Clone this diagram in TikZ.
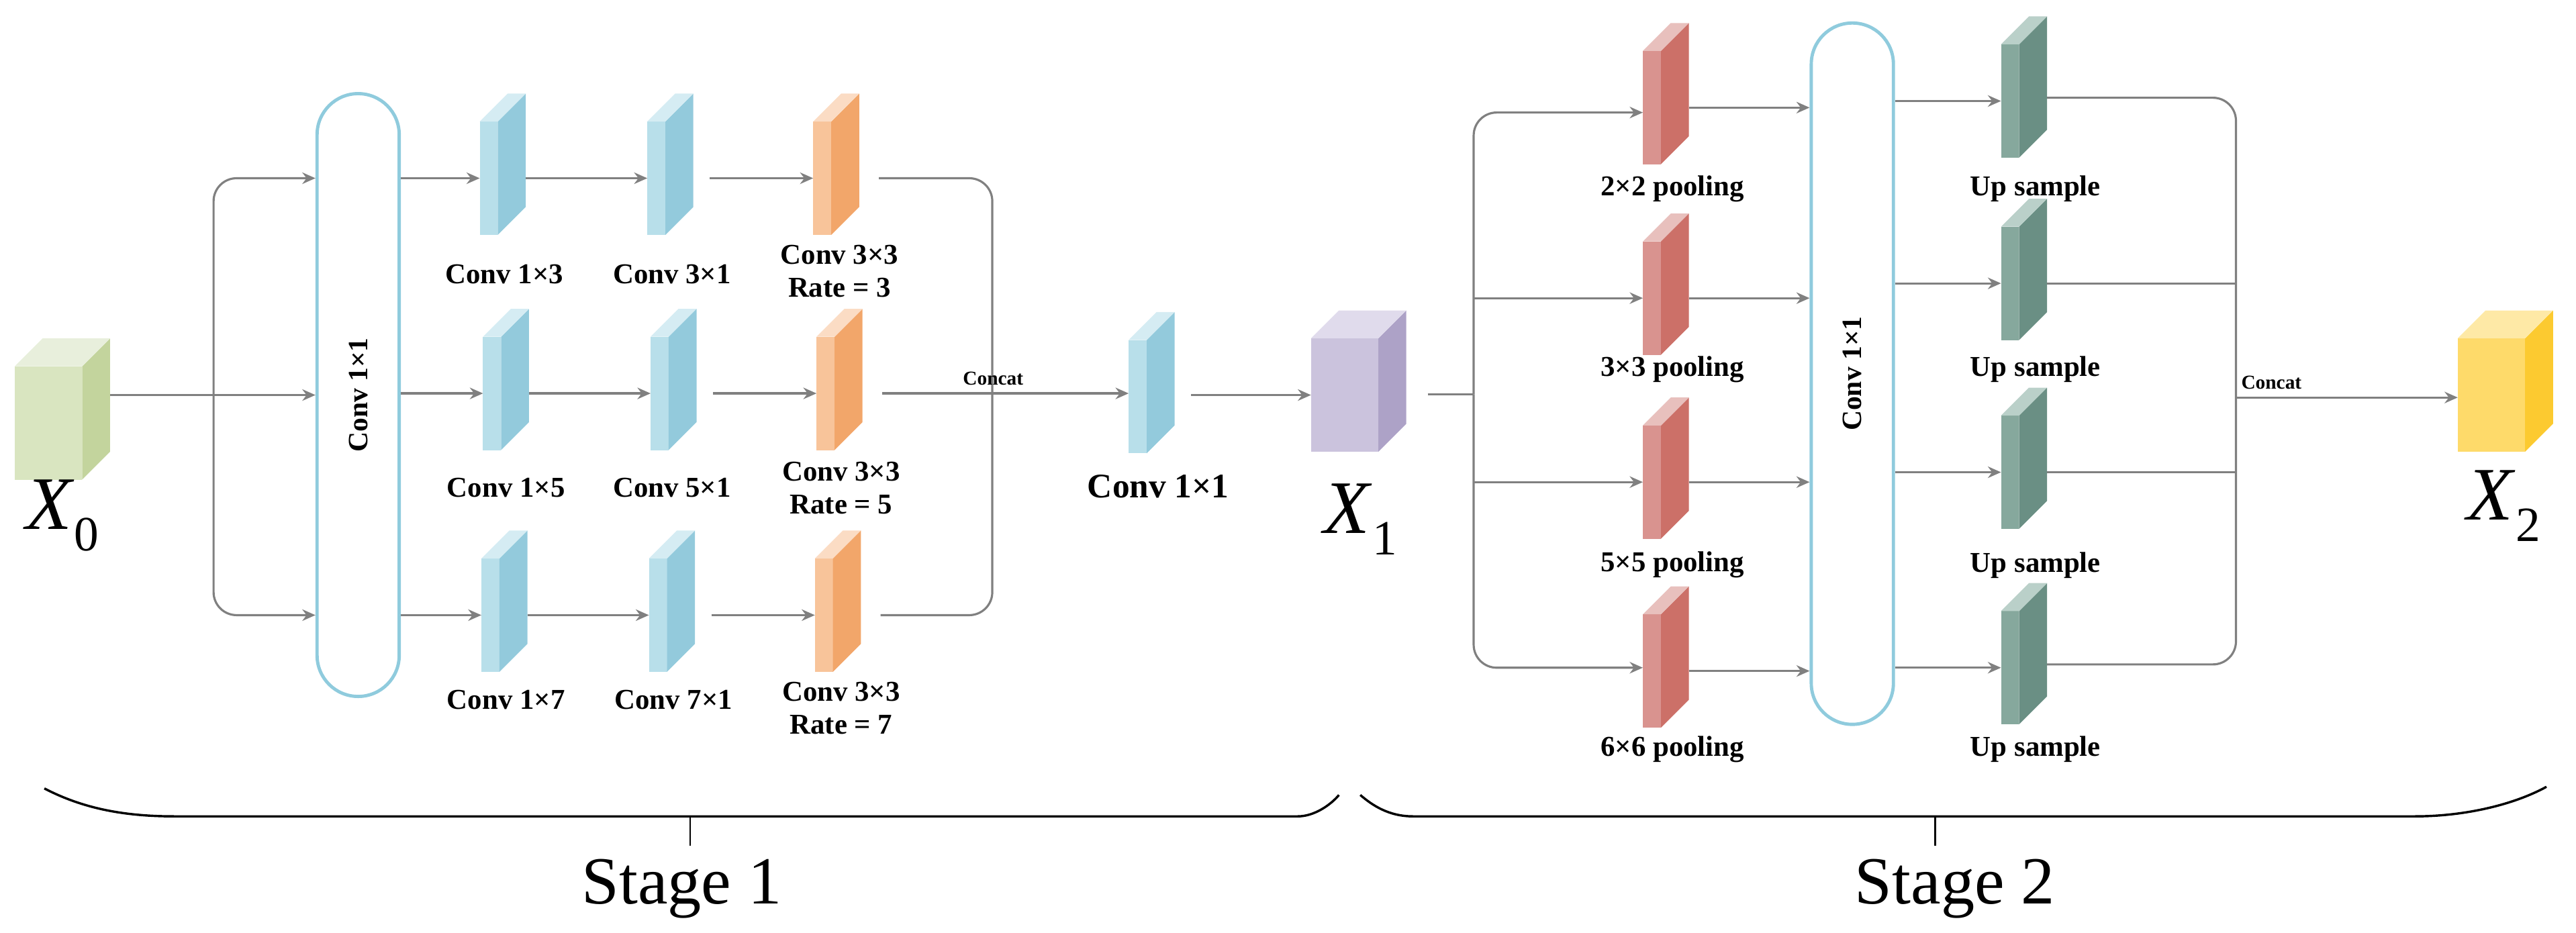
\documentclass[tikz,border=0pt]{standalone}
\usepackage{fontspec}
\setmainfont{Liberation Serif}
\usetikzlibrary{arrows.meta,positioning,calc}

\definecolor{lineg}{HTML}{808080}
\definecolor{ringb}{HTML}{8FCBDD}
\definecolor{bluef}{HTML}{B8DFEA}\definecolor{blues}{HTML}{93CADC}\definecolor{bluet}{HTML}{D5ECF3}
\definecolor{orgf}{HTML}{F8C49A}\definecolor{orgs}{HTML}{F2A66A}\definecolor{orgt}{HTML}{FBDCC4}
\definecolor{redf}{HTML}{D9938F}\definecolor{reds}{HTML}{CC7068}\definecolor{redt}{HTML}{E8C0BD}
\definecolor{tealf}{HTML}{86A89D}\definecolor{teals}{HTML}{6A8F84}\definecolor{tealt}{HTML}{BAD0C9}
\definecolor{grnf}{HTML}{D9E5C0}\definecolor{grns}{HTML}{C3D49D}\definecolor{grnt}{HTML}{E8EFDC}
\definecolor{purf}{HTML}{CBC3DD}\definecolor{purs}{HTML}{ADA2C7}\definecolor{purt}{HTML}{E0DBEC}
\definecolor{yelf}{HTML}{FEDA6A}\definecolor{yels}{HTML}{FCCA30}\definecolor{yelt}{HTML}{FEE9A6}

\tikzset{
  flow/.style={draw=lineg,line width=1.3pt,-{Stealth[length=8pt,width=7pt]},rounded corners=14pt},
  wire/.style={draw=lineg,line width=1.3pt,rounded corners=14pt},
  lbl/.style={font=\fontsize{17.5}{20}\selectfont\bfseries,align=center},
  ring/.style={draw=ringb,line width=2pt,rounded corners=25pt,minimum width=50pt,inner sep=0pt},
  bigx/.style={font=\fontsize{46}{46}\selectfont}
}

% thin feature map: name, front-left x, front-top y, colour prefix
\newcommand\slab[4]{%
  \fill[#4f] (#2,#3) rectangle ++(11,69);
  \fill[#4s] (#2+11,#3) -- ++(17,-17) -- ++(0,69) -- ++(-17,17) -- cycle;
  \fill[#4t] (#2,#3) -- ++(17,-17) -- ++(11,0) -- ++(-17,17) -- cycle;
  \coordinate (#1-in) at (#2,#3+34.5);
  \coordinate (#1-out) at (#2+28,#3+34.5);}
% tensor cube: name, front-left x, front-top y, colour prefix
\newcommand\cube[4]{%
  \fill[#4f] (#2,#3) rectangle ++(41,69);
  \fill[#4s] (#2+41,#3) -- ++(17,-17) -- ++(0,69) -- ++(-17,17) -- cycle;
  \fill[#4t] (#2,#3) -- ++(17,-17) -- ++(41,0) -- ++(-17,17) -- cycle;
  \coordinate (#1-in) at (#2,#3+34.5);
  \coordinate (#1-out) at (#2+58,#3+17.5);}
\newcommand\tensorname[1]{\textit{X}\raisebox{-13pt}{\fontsize{30}{30}\selectfont #1}}

\begin{document}
\begin{tikzpicture}[x=1pt,y=-1pt]
\useasboundingbox (0,0) rectangle (1568,568);

% ---------- Stage 1 ----------
\cube{x0}{9}{223}{grn}
\node[bigx] at (38,314) {\tensorname{0}};
\node[ring,minimum height=367pt] (c1) at (218,240.5) {};
\node[rotate=90,font=\fontsize{17}{17}\selectfont\bfseries] at (c1) {Conv 1×1};

\slab{a1}{292}{74}{blue}  \slab{a2}{394}{74}{blue}  \slab{a3}{495}{74}{org}
\slab{b1}{294}{205}{blue} \slab{b2}{396}{205}{blue} \slab{b3}{497}{205}{org}
\slab{d1}{293}{340}{blue} \slab{d2}{395}{340}{blue} \slab{d3}{496}{340}{org}
\slab{cc}{687}{207}{blue}
\cube{x1}{798}{206}{pur}

\coordinate (br) at (130,240);
\draw[flow] (x0-out) -- (c1.west |- x0-out);
\draw[flow] (br) |- (c1.west |- a1-in);
\draw[flow] (br) |- (c1.west |- d1-in);
\foreach \r in {a,b,d}{
  \draw[flow] (c1.east |- \r1-in) -- (\r1-in);
  \draw[flow] (\r1-out) -- (\r2-in);
  \draw[flow] ($(\r2-out)+(10,0)$) -- (\r3-in);}
\coordinate (jn) at (604,240);
\draw[wire] ($(a3-out)+(12,0)$) -| (jn) |- ($(d3-out)+(12,0)$);
\draw[flow] ($(b3-out)+(12,0)$) -- (cc-in |- b3-out) node[pos=.45,above=1pt,font=\fontsize{12}{12}\selectfont\bfseries] {Concat};
\draw[flow] ($(cc-out |- x1-in)+(10,0)$) -- (x1-in);

\node[lbl] at (307,167) {Conv 1×3}; \node[lbl] at (409,167) {Conv 3×1};
\node[lbl] at (308,297) {Conv 1×5}; \node[lbl] at (409,297) {Conv 5×1};
\node[lbl] at (308,426) {Conv 1×7}; \node[lbl] at (410,426) {Conv 7×1};
\node[lbl] at (511,165) {Conv 3×3\\Rate = 3};
\node[lbl] at (512,297) {Conv 3×3\\Rate = 5};
\node[lbl] at (512,431) {Conv 3×3\\Rate = 7};
\node[lbl,font=\fontsize{21}{21}\selectfont\bfseries] at (705,296) {Conv 1×1};
\node[bigx] at (828,316) {\tensorname{1}};

% ---------- Stage 2 ----------
\node[ring,minimum height=427pt] (c2) at (1127.5,227.5) {};
\node[rotate=90,font=\fontsize{17}{17}\selectfont\bfseries] at (c2) {Conv 1×1};
\slab{p1}{1000}{31}{red}  \slab{p2}{1000}{147}{red}
\slab{p3}{1000}{259}{red} \slab{p4}{1000}{374}{red}
\slab{u1}{1218}{27}{teal} \slab{u2}{1218}{138}{teal}
\slab{u3}{1218}{253}{teal} \slab{u4}{1218}{372}{teal}
\cube{x2}{1496}{206}{yel}

\coordinate (sp) at (897,240);
\draw[wire] ($(x1-out |- sp)+(13,0)$) -- (sp);
\draw[flow] (sp) |- ($(p1-in)+(0,3)$);
\draw[flow] (sp) |- ($(p4-in)+(0,-2)$);
\draw[flow] (sp |- p2-in) -- (p2-in);
\draw[flow] (sp |- p3-in) -- (p3-in);
\foreach \i in {1,...,4}{
  \draw[flow] (p\i-out) -- (c2.west |- p\i-out);
  \draw[flow] (c2.east |- u\i-in) -- (u\i-in);}
\coordinate (jm) at (1361,242);
\draw[wire] ($(u1-out)+(0,-2)$) -| (jm) |- ($(u4-out)+(0,-2)$);
\draw[wire] (u2-out) -- (jm |- u2-out);
\draw[wire] (u3-out) -- (jm |- u3-out);
\draw[flow] (jm) -- (x2-in |- jm) node[pos=.16,above=1pt,font=\fontsize{12}{12}\selectfont\bfseries] {Concat};

\foreach \i/\t in {1/115,2/225,3/344,4/456}{
  \node[lbl] at (1018,\t) {\ifcase\i\or 2×2\or 3×3\or 5×5\or 6×6\fi\ pooling};
  \node[lbl] at (1239,\t) {Up sample};}
\node[bigx] at (1524,308) {\tensorname{2}};

% ---------- braces ----------
\draw[line width=1.4pt] (27,480) .. controls (50,492) and (75,497) .. (106,497) -- (790,497) .. controls (800,497) and (810,490) .. (815,484);
\draw[line width=1pt] (420,497) -- (420,515);
\node[font=\fontsize{41}{41}\selectfont] at (415,541) {Stage 1};
\draw[line width=1.4pt] (828,484) .. controls (835,490) and (845,497) .. (860,497) -- (1470,497) .. controls (1500,497) and (1530,490) .. (1550,479);
\draw[line width=1pt] (1178,497) -- (1178,515);
\node[font=\fontsize{41}{41}\selectfont] at (1190,541) {Stage 2};
\end{tikzpicture}
\end{document}
